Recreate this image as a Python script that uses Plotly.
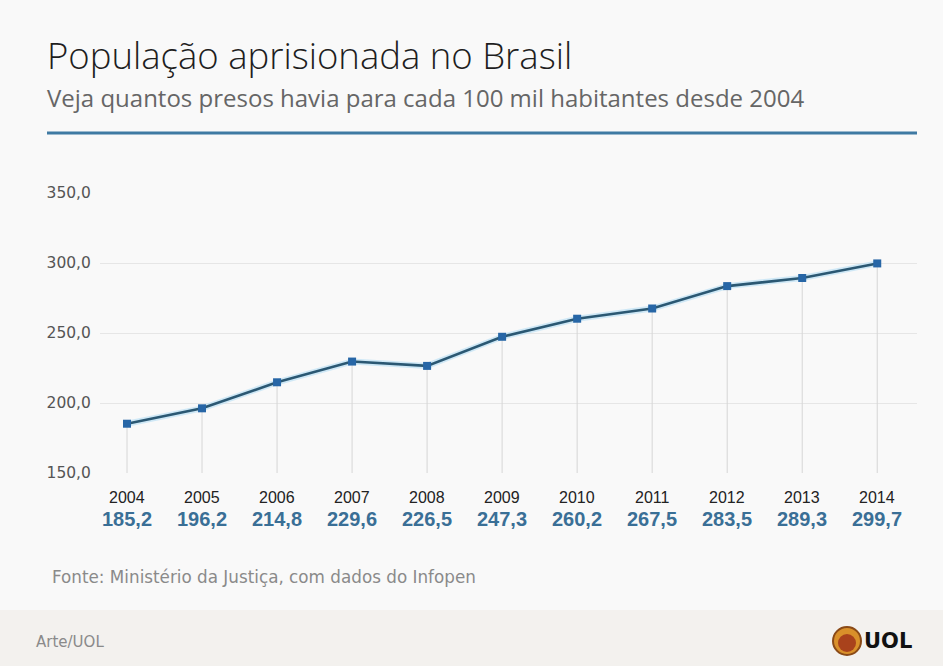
import plotly.graph_objects as go

years = [2004, 2005, 2006, 2007, 2008, 2009, 2010, 2011, 2012, 2013, 2014]
values = [185.2, 196.2, 214.8, 229.6, 226.5, 247.3, 260.2, 267.5, 283.5, 289.3, 299.7]
value_labels = ["185,2", "196,2", "214,8", "229,6", "226,5", "247,3", "260,2", "267,5", "283,5", "289,3", "299,7"]
y_ticks = [150, 200, 250, 300, 350]
y_tick_labels = ["150,0", "200,0", "250,0", "300,0", "350,0"]

title = "População aprisionada no Brasil"
subtitle = "Veja quantos presos havia para cada 100 mil habitantes desde 2004"
source = "Fonte: Ministério da Justiça, com dados do Infopen"
credit = "Arte/UOL"

W, H = 943, 666
L, R, T, B = 100, 26, 193, 193
PW, PH = W - L - R, H - T - B
y_min = 150
y_max = 350


def px(x):
    return (x - L) / PW


def py(y):
    return (H - B - y) / PH


fig = go.Figure()

# drop lines
fig.add_trace(go.Scatter(
    x=years, y=values, mode="markers",
    marker=dict(size=1, color="rgba(0,0,0,0)"),
    error_y=dict(type="data", symmetric=False, array=[0] * len(values),
                 arrayminus=[v - y_min for v in values],
                 color="#d6d6d6", thickness=1, width=0),
    hoverinfo="skip", showlegend=False,
))
# halo
fig.add_trace(go.Scatter(
    x=years, y=values, mode="lines",
    line=dict(color="rgba(190,225,245,0.7)", width=6),
    hoverinfo="skip", showlegend=False,
))
fig.add_trace(go.Scatter(
    x=years, y=values, mode="lines+markers",
    line=dict(color="#2b5873", width=2.6),
    marker=dict(symbol="square", size=8, color="#2766a6"),
    showlegend=False,
))

ann = []
ann.append(dict(text=title, x=px(45), y=py(55), xref="paper", yref="paper",
                xanchor="left", yanchor="middle", showarrow=False,
                font=dict(family="Open Sans", size=36.5, color="#1e1e1e", weight=300)))
ann.append(dict(text=subtitle, x=px(45), y=py(97), xref="paper", yref="paper",
                xanchor="left", yanchor="middle", showarrow=False,
                font=dict(family="Open Sans", size=24, color="#666666")))
for yr, lab in zip(years, value_labels):
    ann.append(dict(text=str(yr), x=yr, y=py(497), xref="x", yref="paper",
                    xanchor="center", yanchor="middle", showarrow=False,
                    font=dict(family="Liberation Sans", size=16, color="#222222")))
    ann.append(dict(text="<b>" + lab + "</b>", x=yr, y=py(519), xref="x", yref="paper",
                    xanchor="center", yanchor="middle", showarrow=False,
                    font=dict(family="Liberation Sans", size=20, color="#3a6f96")))
ann.append(dict(text=source, x=px(50), y=py(577), xref="paper", yref="paper",
                xanchor="left", yanchor="middle", showarrow=False,
                font=dict(family="DejaVu Sans", size=16.8, color="#8a8a8a")))
ann.append(dict(text=credit, x=px(34), y=py(642), xref="paper", yref="paper",
                xanchor="left", yanchor="middle", showarrow=False,
                font=dict(family="DejaVu Sans", size=15, color="#8a8a8a")))
ann.append(dict(text="<b>UOL</b>", x=px(862), y=py(641), xref="paper", yref="paper",
                xanchor="left", yanchor="middle", showarrow=False,
                font=dict(family="DejaVu Sans", size=21, color="#111111")))

shapes = [
    dict(type="rect", xref="paper", yref="paper", x0=px(0), x1=px(W), y0=py(610), y1=py(H),
         fillcolor="#f3f1ee", line=dict(width=0), layer="below"),
    dict(type="line", xref="paper", yref="paper", x0=px(47), x1=px(917), y0=py(133), y1=py(133),
         line=dict(color="#3f7aa3", width=3)),
    dict(type="circle", xref="paper", yref="paper", x0=px(833), x1=px(861), y0=py(627), y1=py(655),
         fillcolor="#d9902a", line=dict(color="#8a4a17", width=2)),
    dict(type="circle", xref="paper", yref="paper", x0=px(838), x1=px(856), y0=py(634), y1=py(652),
         fillcolor="#a9421c", line=dict(width=0)),
]

fig.update_layout(
    width=W, height=H,
    margin=dict(l=L, r=R, t=T, b=B),
    paper_bgcolor="#f9f9f9", plot_bgcolor="#f9f9f9",
    annotations=ann, shapes=shapes,
    xaxis=dict(range=[2003.64, 2014.53], showgrid=False, zeroline=False,
               showticklabels=False, showline=False, fixedrange=True),
    yaxis=dict(range=[y_min, y_max], tickvals=y_ticks, ticktext=y_tick_labels,
               showgrid=True, gridcolor="#e6e6e6", gridwidth=1, zeroline=False,
               showline=False, ticks="outside", ticklen=5, tickcolor="rgba(0,0,0,0)",
               tickfont=dict(family="DejaVu Sans", size=15.5, color="#555555"),
               fixedrange=True),
    hovermode=False,
)

fig.write_html("out.html", config={"displayModeBar": False},
               post_script="document.body.style.margin='0';document.body.style.overflow='hidden';")
